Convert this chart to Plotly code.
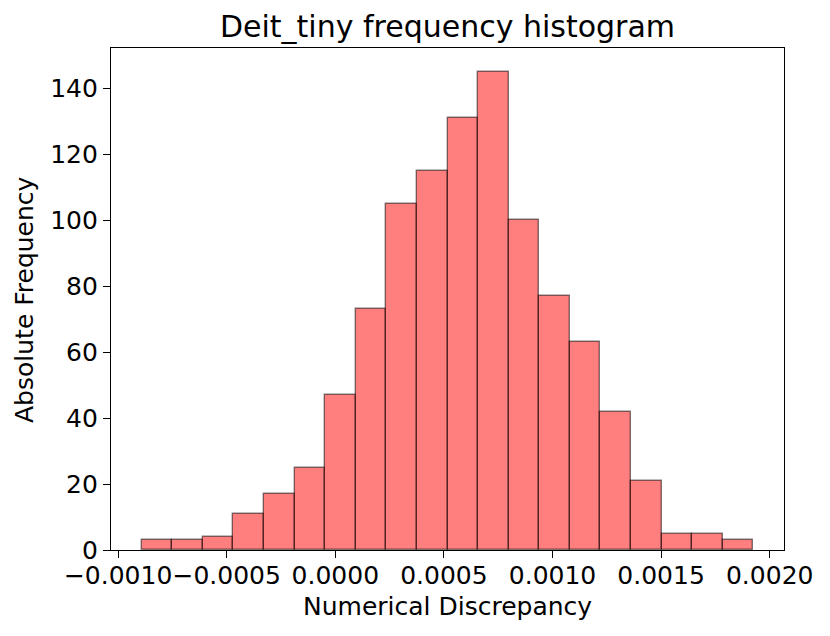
import plotly.graph_objects as go

# Data
counts = [3, 3, 4, 11, 17, 25, 47, 73, 105, 115, 131, 145, 100, 77, 63, 42, 21, 5, 5, 3]
bin_start = -0.000892
bin_end = 0.001925
x_tick_vals = [-0.0010, -0.0005, 0.0000, 0.0005, 0.0010, 0.0015, 0.0020]
x_tick_text = ["\u22120.0010", "\u22120.0005", "0.0000", "0.0005", "0.0010", "0.0015", "0.0020"]
y_tick_vals = [0, 20, 40, 60, 80, 100, 120, 140]

n = len(counts)
bw = (bin_end - bin_start) / n
centers = [bin_start + bw * (i + 0.5) for i in range(n)]
span = bin_end - bin_start
xr = [bin_start - 0.05 * span, bin_end + 0.05 * span]
yr = [0, max(counts) * 1.05]

FONT = "DejaVu Sans"
# page body has an 8px default margin; compensate so the plot lands where the reference has it
OFF = 8
W, H = 830 - OFF, 636 - OFF
ML, MR, MT, MB = 111 - OFF, 46, 48 - OFF, 86
PW, PH = W - ML - MR, H - MT - MB

fig = go.Figure(
    go.Bar(
        x=centers,
        y=counts,
        width=[bw] * n,
        marker=dict(color="rgba(255,0,0,0.5)", line=dict(color="rgba(0,0,0,0.5)", width=1.4)),
        hoverinfo="x+y",
    )
)

fig.update_layout(
    width=W,
    height=H,
    margin=dict(l=ML, r=MR, t=MT, b=MB, autoexpand=False),
    paper_bgcolor="white",
    plot_bgcolor="white",
    font=dict(family=FONT, size=25, color="black"),
    showlegend=False,
    bargap=0,
    title=dict(
        text="Deit_tiny frequency histogram",
        x=0.5,
        xanchor="center",
        xref="paper",
        y=1 - (26 - OFF) / H,
        yanchor="middle",
        font=dict(family=FONT, size=30, color="black"),
    ),
    annotations=[
        dict(
            text="Numerical Discrepancy",
            xref="paper", yref="paper",
            x=0.5, y=-((606 - OFF) - (MT + PH)) / PH,
            xanchor="center", yanchor="middle",
            showarrow=False,
            font=dict(family=FONT, size=25, color="black"),
        ),
        dict(
            text="Absolute Frequency",
            xref="paper", yref="paper",
            x=((24 - OFF) - ML) / PW, y=0.5,
            xanchor="center", yanchor="middle",
            textangle=-90,
            showarrow=False,
            font=dict(family=FONT, size=25, color="black"),
        ),
    ],
)

fig.update_xaxes(
    range=xr,
    tickvals=x_tick_vals,
    ticktext=x_tick_text,
    tickangle=0,
    ticks="outside",
    ticklen=7,
    tickwidth=1.3,
    tickcolor="black",
    ticklabelstandoff=-4,
    showline=True,
    linecolor="black",
    linewidth=1.3,
    mirror=True,
    showgrid=False,
    zeroline=False,
    automargin=False,
    tickfont=dict(family=FONT, size=25),
)
fig.update_yaxes(
    range=yr,
    tickvals=y_tick_vals,
    ticks="outside",
    ticklen=7,
    tickwidth=1.3,
    tickcolor="black",
    showline=True,
    linecolor="black",
    linewidth=1.3,
    mirror=True,
    showgrid=False,
    zeroline=False,
    automargin=False,
    tickfont=dict(family=FONT, size=25),
)

fig.write_html("out.html")
